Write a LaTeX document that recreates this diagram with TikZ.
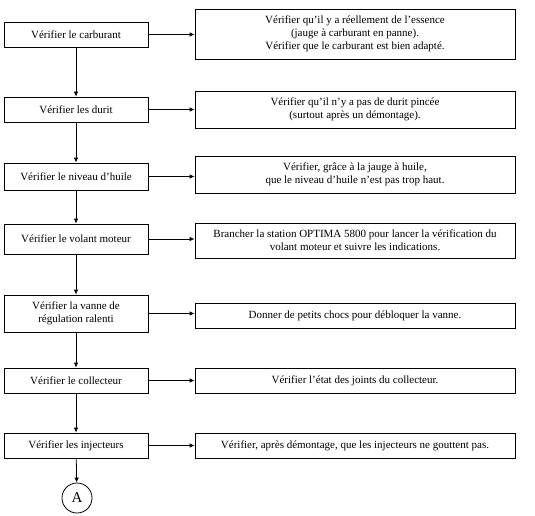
\documentclass[tikz,border=0pt]{standalone}
\usepackage{fontspec}
\setmainfont{Liberation Serif}
\usetikzlibrary{arrows.meta, positioning}

\tikzset{
    stepbox/.style={draw, line width=0.8pt, minimum width=144pt, align=center, inner sep=2pt},
    notebox/.style={draw, line width=0.8pt, minimum width=320pt, align=center, inner sep=2pt},
    link/.style={line width=0.8pt, -{Latex[length=5pt,width=4.5pt]}}
}

\begin{document}
\begin{tikzpicture}[x=1pt, y=-1pt, font=\fontsize{11}{13}\selectfont]
    \useasboundingbox (0,0) rectangle (535,516);
    % checks, left column
    \node[stepbox, minimum height=25pt] (s1) at (76,34.5) {Vérifier le carburant};
    \node[stepbox, minimum height=25pt] (s2) at (76,109.5) {Vérifier les durit};
    \node[stepbox, minimum height=27pt] (s3) at (76,176.5) {Vérifier le niveau d’huile};
    \node[stepbox, minimum height=30pt] (s4) at (76,239) {Vérifier le volant moteur};
    \node[stepbox, minimum height=37pt] (s5) at (76,313.5) {Vérifier la vanne de\\régulation ralenti};
    \node[stepbox, minimum height=25pt] (s6) at (76,380.5) {Vérifier le collecteur};
    \node[stepbox, minimum height=25pt] (s7) at (76,445.5) {Vérifier les injecteurs};
    \node[draw, circle, line width=0.8pt, minimum size=30pt, inner sep=0pt, font=\fontsize{15}{15}\selectfont] (A) at (77,498) {A};
    % what to do, right column
    \node[notebox, minimum height=50pt] (n1) at (355,34) {Vérifier qu’il y a réellement de l’essence\\(jauge à carburant en panne).\\Vérifier que le carburant est bien adapté.};
    \node[notebox, minimum height=37pt] (n2) at (355,109.5) {Vérifier qu’il n’y a pas de durit pincée\\(surtout après un démontage).};
    \node[notebox, minimum height=37pt] (n3) at (355,174.5) {Vérifier, grâce à la jauge à huile,\\que le niveau d’huile n’est pas trop haut.};
    \node[notebox, minimum height=35pt] (n4) at (355,240.5) {Brancher la station OPTIMA 5800 pour lancer la vérification du\\volant moteur et suivre les indications.};
    \node[notebox, minimum height=25pt] (n5) at (355,315.5) {Donner de petits chocs pour débloquer la vanne.};
    \node[notebox, minimum height=25pt] (n6) at (355,380.5) {Vérifier l’état des joints du collecteur.};
    \node[notebox, minimum height=25pt] (n7) at (355,445.5) {Vérifier, après démontage, que les injecteurs ne gouttent pas.};
    % arrows
    \foreach \i in {1,...,7} {
        \draw[link] (s\i.east) -- (s\i.east -| n\i.west);
    }
    \foreach \i/\j in {1/2,2/3,3/4,4/5,5/6,6/7} {
        \draw[link] (s\i) -- (s\j);
    }
    \draw[link] (s7) -- (A);
\end{tikzpicture}
\end{document}
